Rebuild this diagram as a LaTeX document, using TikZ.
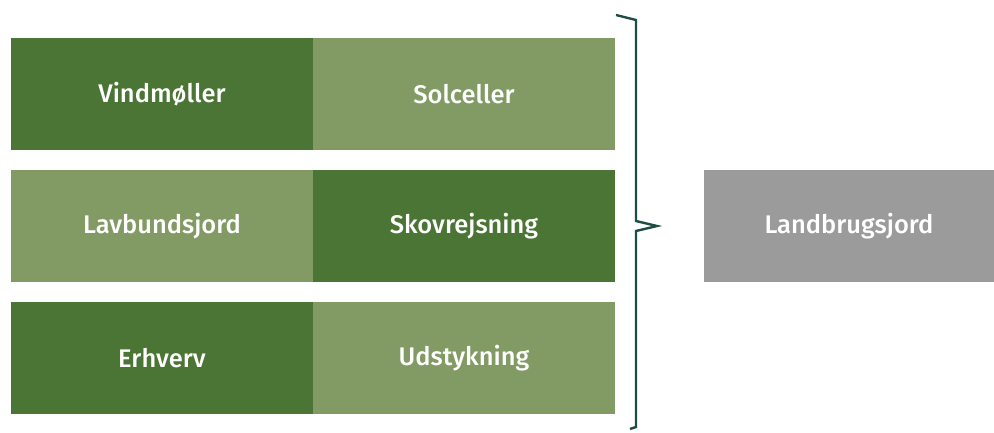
\documentclass[tikz,border=0pt]{standalone}
\usepackage{fontspec}
\setmainfont{Fira Sans Medium}
\definecolor{darkgreen}{HTML}{4A7534}
\definecolor{lightgreen}{HTML}{829A63}
\definecolor{landgrey}{HTML}{9B9B9B}
\definecolor{bracecol}{HTML}{1D4D45}
\begin{document}
\begin{tikzpicture}[x=1pt,y=-1pt,
    field/.style={minimum width=302pt,minimum height=112pt,inner sep=0pt,
      text=white,font=\fontsize{25.5}{30}\selectfont},
    dark/.style={field,fill=darkgreen},
    light/.style={field,fill=lightgreen}]
    \useasboundingbox (0,0) rectangle (994,432);
    \node[dark]  (vind)  at (162,94)  {Vindmøller};
    \node[light] (sol)   at (464,94)  {Solceller};
    \node[light] (lav)   at (162,226) {Lavbundsjord};
    \node[dark]  (skov)  at (464,226) {Skovrejsning};
    \node[dark]  (erh)   at (162,358) {Erhverv};
    \node[light] (udst)  at (464,358) {Udstykning};
    \node[field,fill=landgrey,minimum width=290pt] (land) at (849,226) {Landbrugsjord};
    
    \draw[bracecol,line width=2.4pt] (616,15) -- (636,20) -- (636,221)
      -- (657,226) -- (636,231) -- (636,427) -- (630,429);
  \end{tikzpicture}
\end{document}
